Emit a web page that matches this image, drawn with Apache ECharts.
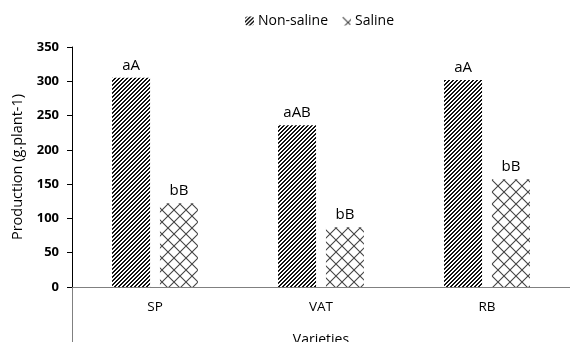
<!DOCTYPE html>
<html>
<head>
<meta charset="utf-8">
<script src="https://cdn.jsdelivr.net/npm/echarts@6/dist/echarts.min.js"></script>
<style>
html,body{margin:0;padding:0;background:#fff;}
#chart{width:570px;height:342px;}
</style>
</head>
<body>
<div id="chart"></div>
<script>
// Production per plant for three varieties under two conditions
const varieties = ['SP', 'VAT', 'RB'];
const nonSaline = [305, 236, 302];
const saline = [122, 87, 157];
const nonSalineLetters = ['aA', 'aAB', 'aA'];
const salineLetters = ['bB', 'bB', 'bB'];
const yTicks = [0, 50, 100, 150, 200, 250, 300, 350];

const FONT = '"Open Sans", "Noto Sans", sans-serif';

// Dense diagonal stripes
function stripeTile() {
  const c = document.createElement('canvas');
  c.width = 4; c.height = 4;
  const g = c.getContext('2d');
  g.fillStyle = '#fff'; g.fillRect(0, 0, 4, 4);
  g.fillStyle = '#111';
  for (let y = 0; y < 4; y++) {
    for (let x = 0; x < 4; x++) {
      const d = (x + y) % 4;
      if (d === 0 || d === 1) g.fillRect(x, y, 1, 1);
    }
  }
  return c;
}

// Open diagonal lattice
function latticeTile() {
  const s = 12;
  const c = document.createElement('canvas');
  c.width = s; c.height = s;
  const g = c.getContext('2d');
  g.fillStyle = '#fff'; g.fillRect(0, 0, s, s);
  g.strokeStyle = '#444';
  g.lineWidth = 1.1;
  g.beginPath();
  g.moveTo(0, 0); g.lineTo(s, s);
  g.moveTo(s, 0); g.lineTo(0, s);
  g.stroke();
  return c;
}

const stripeFill = { image: stripeTile(), repeat: 'repeat' };
const latticeFill = { image: latticeTile(), repeat: 'repeat' };

const chart = echarts.init(document.getElementById('chart'));

const labelStyle = {
  show: true,
  position: 'top',
  distance: 5,
  color: '#000',
  fontSize: 15,
  fontFamily: FONT
};

chart.setOption({
  animation: false,
  legend: {
    top: 9,
    left: 240,
    itemWidth: 9,
    itemHeight: 9,
    itemGap: 14,
    textStyle: { fontSize: 14, fontFamily: FONT, color: '#000', padding: [0, 0, 0, -1] },
    data: ['Non-saline', 'Saline']
  },
  grid: { left: 72, right: 0, top: 47, bottom: 55, containLabel: false, outerBoundsMode: 'none' },
  xAxis: {
    type: 'category',
    data: varieties,
    name: 'Varieties',
    nameLocation: 'middle',
    nameGap: 46,
    nameTextStyle: { fontSize: 14, fontFamily: FONT, color: '#000' },
    axisLine: { lineStyle: { color: '#808080', width: 1 } },
    axisTick: { show: false },
    axisLabel: { fontSize: 13.5, fontFamily: FONT, color: '#000', margin: 13 }
  },
  yAxis: {
    type: 'value',
    min: 0,
    max: 350,
    interval: 50,
    name: 'Production (g.plant-1)',
    nameLocation: 'middle',
    nameGap: 45,
    nameTextStyle: { fontSize: 14.5, fontFamily: FONT, color: '#000' },
    axisLine: { show: true, lineStyle: { color: '#000', width: 1 } },
    axisTick: { show: true, inside: false, length: 5, lineStyle: { color: '#000' } },
    axisLabel: {
      fontSize: 13, fontWeight: 'bold', fontFamily: FONT, color: '#000', margin: 13,
      formatter: v => (yTicks.indexOf(v) >= 0 ? String(v) : '')
    },
    splitLine: { show: false }
  },
  series: [
    {
      name: 'Non-saline',
      type: 'bar',
      data: nonSaline.map((v, i) => ({ value: v, label: { formatter: nonSalineLetters[i] } })),
      barWidth: 38,
      barGap: '26%',
      itemStyle: { color: stripeFill },
      label: labelStyle
    },
    {
      name: 'Saline',
      type: 'bar',
      data: saline.map((v, i) => ({ value: v, label: { formatter: salineLetters[i] } })),
      barWidth: 38,
      itemStyle: { color: latticeFill },
      label: labelStyle
    }
  ]
});

// Vertical axis line continues below the category axis
const zeroY = chart.convertToPixel({ yAxisIndex: 0 }, 0);
chart.setOption({
  graphic: [{
    type: 'line',
    shape: { x1: 72.5, y1: zeroY, x2: 72.5, y2: 342 },
    style: { stroke: '#808080', lineWidth: 1 },
    silent: true
  }]
});
</script>
</body>
</html>
